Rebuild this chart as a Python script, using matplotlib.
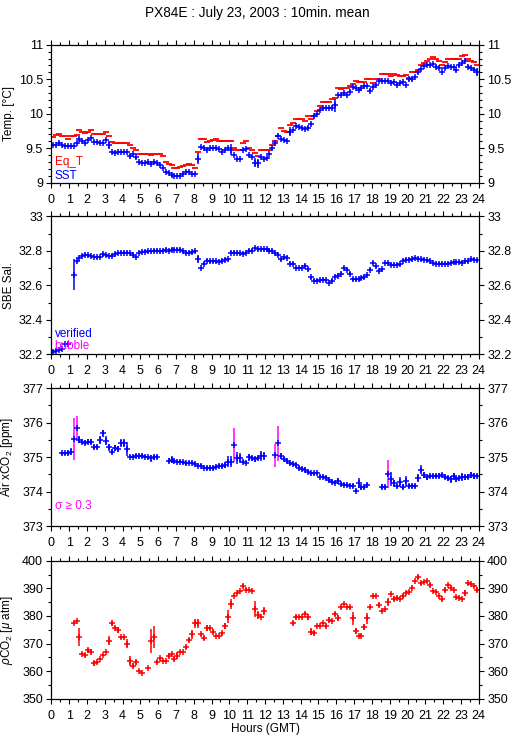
import numpy as np
import matplotlib
matplotlib.use('Agg')
import matplotlib.pyplot as plt
from matplotlib.ticker import MultipleLocator

plt.rcParams['font.family'] = ['Liberation Sans', 'DejaVu Sans']
plt.rcParams['mathtext.fontset'] = 'custom'
plt.rcParams['mathtext.rm'] = 'Liberation Sans'
plt.rcParams['mathtext.it'] = 'Liberation Sans:italic'

nan = np.nan

# 10 minute bins, one row per hour
hours = (np.arange(144) + 0.5) / 6.0

eq_t = [
    [9.66, 9.69, 9.70, 9.68, 9.67, 9.64],
    [9.67, 9.68, 9.69, 9.76, 9.735, 9.72],
    [9.735, 9.765, 9.70, 9.70, 9.70, 9.70],
    [9.73, 9.68, 9.59, 9.57, 9.57, 9.58],
    [9.58, 9.57, 9.55, 9.51, 9.48, 9.42],
    [9.415, 9.415, 9.41, 9.405, 9.41, 9.42],
    [9.42, 9.38, 9.30, 9.27, 9.25, 9.21],
    [9.21, 9.23, 9.24, 9.26, 9.27, 9.26],
    [9.22, 9.44, 9.63, 9.63, 9.59, 9.61],
    [9.62, 9.63, 9.60, 9.60, 9.60, 9.60],
    [9.60, 9.50, 9.47, 9.47, 9.57, 9.60],
    [9.51, 9.47, 9.43, 9.39, 9.47, 9.47],
    [9.47, 9.47, 9.55, 9.61, 9.68, 9.79],
    [9.745, 9.73, 9.83, 9.86, 9.92, 9.92],
    [9.92, 9.89, 9.96, 9.925, 9.97, 10.045],
    [10.11, 10.175, 10.175, 10.175, 10.21, 10.225],
    [10.38, 10.355, 10.38, 10.37, 10.40, 10.43],
    [10.48, 10.467, 10.467, 10.467, 10.50, 10.50],
    [10.44, 10.50, 10.50, 10.573, 10.573, 10.573],
    [10.545, 10.57, 10.555, 10.545, 10.545, 10.56],
    [10.525, 10.60, 10.60, 10.636, 10.70, 10.74],
    [10.77, 10.79, 10.83, 10.79, 10.77, 10.70],
    [10.75, 10.79, 10.79, 10.79, 10.79, 10.79],
    [10.84, 10.85, 10.79, 10.77, 10.75, 10.71],
]

sst = [
    [9.55, 9.55, 9.57, 9.54, 9.535, 9.53],
    [9.53, 9.53, 9.57, 9.63, 9.61, 9.57],
    [9.62, 9.65, 9.59, 9.585, 9.58, 9.58],
    [9.62, 9.55, 9.445, 9.43, 9.44, 9.44],
    [9.45, 9.445, 9.38, 9.41, 9.37, 9.30],
    [9.29, 9.29, 9.30, 9.27, 9.30, 9.29],
    [9.26, 9.21, 9.15, 9.145, 9.11, 9.10],
    [9.09, 9.09, 9.125, 9.16, 9.15, 9.12],
    [9.125, 9.35, 9.52, 9.51, 9.475, 9.505],
    [9.50, 9.50, 9.49, 9.45, 9.48, 9.51],
    [9.48, 9.40, 9.35, 9.35, 9.475, 9.49],
    [9.40, 9.37, 9.29, 9.28, 9.37, 9.345],
    [9.36, 9.42, 9.50, 9.57, 9.68, 9.63],
    [9.62, 9.61, 9.74, 9.765, 9.82, 9.81],
    [9.79, 9.775, 9.80, 9.85, 9.96, 10.00],
    [10.05, 10.08, 10.08, 10.09, 10.09, 10.12],
    [10.27, 10.27, 10.30, 10.27, 10.32, 10.39],
    [10.37, 10.345, 10.37, 10.40, 10.40, 10.335],
    [10.39, 10.41, 10.47, 10.47, 10.47, 10.47],
    [10.45, 10.46, 10.42, 10.44, 10.46, 10.42],
    [10.50, 10.50, 10.53, 10.60, 10.645, 10.69],
    [10.70, 10.70, 10.72, 10.685, 10.67, 10.60],
    [10.66, 10.695, 10.685, 10.685, 10.63, 10.70],
    [10.73, 10.767, 10.685, 10.66, 10.64, 10.60],
]

sst_sd = [
    [0.01, 0.01, 0.01, 0.01, 0.01, 0.01],
    [0.01, 0.01, 0.015, 0.015, 0.01, 0.015],
    [0.01, 0.015, 0.01, 0.01, 0.01, 0.01],
    [0.01, 0.06, 0.01, 0.01, 0.01, 0.01],
    [0.01, 0.01, 0.02, 0.02, 0.02, 0.01],
    [0.01, 0.01, 0.01, 0.01, 0.01, 0.01],
    [0.01, 0.01, 0.01, 0.01, 0.01, 0.01],
    [0.01, 0.01, 0.01, 0.015, 0.01, 0.01],
    [0.015, 0.08, 0.015, 0.01, 0.01, 0.01],
    [0.01, 0.01, 0.015, 0.01, 0.01, 0.01],
    [0.085, 0.02, 0.01, 0.01, 0.02, 0.01],
    [0.01, 0.01, 0.065, 0.065, 0.01, 0.015],
    [0.01, 0.01, 0.02, 0.02, 0.02, 0.015],
    [0.01, 0.01, 0.07, 0.015, 0.01, 0.01],
    [0.01, 0.015, 0.015, 0.02, 0.015, 0.01],
    [0.01, 0.01, 0.01, 0.01, 0.02, 0.1],
    [0.01, 0.01, 0.01, 0.015, 0.02, 0.015],
    [0.015, 0.01, 0.015, 0.01, 0.01, 0.02],
    [0.015, 0.015, 0.01, 0.01, 0.01, 0.01],
    [0.01, 0.01, 0.02, 0.01, 0.01, 0.01],
    [0.02, 0.02, 0.015, 0.02, 0.015, 0.01],
    [0.01, 0.01, 0.01, 0.015, 0.02, 0.015],
    [0.015, 0.01, 0.01, 0.01, 0.02, 0.015],
    [0.015, 0.02, 0.015, 0.015, 0.02, 0.06],
]

salinity = [
    [32.215, 32.22, 32.225, 32.23, 32.26, 32.26],
    [nan, 32.66, 32.74, 32.758, 32.77, 32.777],
    [32.775, 32.768, 32.765, 32.763, 32.765, 32.78],
    [32.775, 32.77, 32.772, 32.78, 32.787, 32.79],
    [32.79, 32.79, 32.787, 32.777, 32.765, 32.79],
    [32.795, 32.795, 32.797, 32.797, 32.80, 32.80],
    [32.797, 32.80, 32.806, 32.80, 32.806, 32.806],
    [32.806, 32.806, 32.797, 32.79, 32.79, 32.792],
    [32.797, 32.752, 32.70, 32.725, 32.742, 32.74],
    [32.74, 32.74, 32.738, 32.742, 32.748, 32.752],
    [32.79, 32.79, 32.79, 32.785, 32.783, 32.79],
    [32.80, 32.80, 32.816, 32.81, 32.81, 32.81],
    [32.81, 32.80, 32.80, 32.787, 32.777, 32.752],
    [32.763, 32.76, 32.725, 32.725, 32.70, 32.70],
    [32.70, 32.715, 32.694, 32.647, 32.626, 32.626],
    [32.63, 32.632, 32.63, 32.613, 32.628, 32.65],
    [32.655, 32.667, 32.70, 32.69, 32.667, 32.636],
    [32.636, 32.636, 32.64, 32.647, 32.66, 32.69],
    [32.73, 32.71, 32.686, 32.694, 32.73, 32.73],
    [32.72, 32.72, 32.72, 32.722, 32.742, 32.748],
    [32.748, 32.752, 32.758, 32.755, 32.752, 32.748],
    [32.745, 32.74, 32.73, 32.725, 32.725, 32.725],
    [32.725, 32.725, 32.73, 32.733, 32.733, 32.733],
    [32.73, 32.74, 32.74, 32.752, 32.748, 32.745],
]

sal_sd = np.full((24, 6), 0.008)
sal_sd[1, 1] = 0.09
sal_sd[8, 1] = 0.025

air_xco2 = [
    [nan, nan, nan, 375.11, 375.11, 375.12],
    [375.16, 375.52, 375.84, 375.50, 375.45, 375.42],
    [375.45, 375.45, 375.29, 375.29, 375.50, 375.69],
    [375.48, 375.28, 375.16, 375.26, 375.23, 375.40],
    [375.40, 375.23, 375.01, 375.01, 375.03, 375.03],
    [375.03, 375.01, 374.99, 374.97, 374.99, 375.00],
    [nan, nan, nan, 374.90, 374.92, 374.88],
    [374.87, 374.87, 374.85, 374.82, 374.84, 374.84],
    [374.80, 374.75, 374.75, 374.69, 374.68, 374.68],
    [374.68, 374.72, 374.74, 374.74, 374.77, 374.87],
    [374.87, 375.35, 374.97, 374.97, 374.87, 374.84],
    [374.99, 374.97, 374.94, 374.97, 375.03, 375.03],
    [nan, nan, nan, 375.05, 375.40, 375.03],
    [374.94, 374.88, 374.82, 374.80, 374.77, 374.68],
    [374.65, 374.63, 374.58, 374.53, 374.53, 374.53],
    [374.43, 374.43, 374.39, 374.34, 374.29, 374.26],
    [374.31, 374.22, 374.20, 374.19, 374.17, 374.16],
    [374.03, 374.24, 374.12, 374.12, 374.19, nan],
    [nan, nan, nan, 374.14, 374.13, 374.51],
    [374.36, 374.24, 374.16, 374.27, 374.14, 374.31],
    [374.16, 374.16, 374.16, 374.39, 374.63, 374.48],
    [374.41, 374.45, 374.45, 374.45, 374.46, 374.48],
    [374.43, 374.39, 374.36, 374.45, 374.36, 374.39],
    [374.43, 374.41, 374.43, 374.48, 374.45, 374.45],
]

air_sd = [
    [0, 0, 0, 0.05, 0.05, 0.05],
    [0.1, 0.6, 0.34, 0.1, 0.08, 0.08],
    [0.08, 0.08, 0.07, 0.07, 0.12, 0.1],
    [0.12, 0.1, 0.07, 0.08, 0.08, 0.12],
    [0.12, 0.2, 0.05, 0.05, 0.05, 0.05],
    [0.05, 0.05, 0.05, 0.1, 0.08, 0.05],
    [0, 0, 0, 0.07, 0.1, 0.05],
    [0.05, 0.05, 0.05, 0.05, 0.05, 0.05],
    [0.05, 0.05, 0.05, 0.05, 0.05, 0.05],
    [0.05, 0.05, 0.05, 0.05, 0.08, 0.15],
    [0.15, 0.5, 0.18, 0.15, 0.05, 0.05],
    [0.1, 0.07, 0.07, 0.05, 0.15, 0.12],
    [0, 0, 0, 0.33, 0.5, 0.08],
    [0.05, 0.05, 0.05, 0.05, 0.05, 0.05],
    [0.05, 0.07, 0.05, 0.05, 0.05, 0.05],
    [0.05, 0.05, 0.05, 0.05, 0.05, 0.05],
    [0.07, 0.05, 0.05, 0.05, 0.05, 0.05],
    [0.05, 0.15, 0.07, 0.05, 0.07, 0],
    [0, 0, 0, 0.07, 0.07, 0.4],
    [0.2, 0.1, 0.07, 0.15, 0.07, 0.14],
    [0.05, 0.05, 0.05, 0.12, 0.13, 0.1],
    [0.08, 0.07, 0.07, 0.07, 0.07, 0.07],
    [0.07, 0.07, 0.1, 0.1, 0.07, 0.07],
    [0.12, 0.07, 0.07, 0.08, 0.08, 0.07],
]

pco2 = [
    [nan, nan, nan, nan, nan, nan],
    [nan, 377.3, 378.1, 372.4, 366.1, 365.7],
    [367.5, 367.1, 362.8, 363.2, 364.4, 365.8],
    [366.8, 371.1, 377.3, 375.8, 374.9, 372.2],
    [372.2, 370.0, 363.8, 362.0, 363.2, 360.0],
    [359.5, nan, 361.0, 370.9, 372.3, 363.4],
    [364.6, 363.6, 363.8, 365.6, 366.1, 364.4],
    [365.6, 366.8, 367.0, 368.7, 371.3, 373.3],
    [377.3, 377.3, 373.3, 372.1, 375.7, 375.5],
    [374.3, 372.7, 372.8, 373.7, 376.4, 379.7],
    [384.2, 387.3, 388.2, 389.1, 390.8, 389.6],
    [389.4, 389.0, 382.5, 380.3, 379.5, 381.8],
    [nan, nan, nan, nan, nan, nan],
    [nan, nan, nan, 377.5, 379.7, 379.7],
    [379.7, 380.9, 379.7, 374.3, 373.9, 376.3],
    [376.4, 377.5, 376.3, 378.7, 378.1, 380.7],
    [379.3, 383.1, 384.3, 383.3, 383.1, 379.1],
    [374.6, 372.7, 372.9, 376.1, 379.1, 383.3],
    [387.2, 387.2, 383.9, 381.9, 382.4, 385.1],
    [387.9, 386.3, 386.7, 386.3, 387.2, 388.5],
    [388.6, 390.2, 392.6, 394.2, 391.8, 392.4],
    [392.8, 391.2, 389.1, 388.6, 387.2, 386.0],
    [389.6, 391.1, 390.3, 389.3, 386.8, 386.7],
    [386.3, 388.4, 391.8, 391.6, 390.8, 389.6],
]

pco2_sd = [
    [0, 0, 0, 0, 0, 0],
    [0, 0.3, 0.4, 3.4, 0.4, 0.4],
    [1.0, 1.0, 0.8, 0.5, 0.4, 0.4],
    [0.4, 1.5, 1.0, 0.4, 1.2, 0.4],
    [0.4, 1.5, 1.8, 0.8, 1.0, 0.4],
    [0.3, 0, 0.3, 4.5, 4.0, 0.8],
    [0.4, 0.4, 0.4, 0.8, 0.4, 0.8],
    [1.2, 0.4, 0.4, 0.8, 0.8, 1.5],
    [1.5, 1.5, 0.5, 0.8, 1.0, 0.4],
    [1.0, 0.4, 0.4, 0.5, 1.0, 2.3],
    [1.8, 0.4, 0.4, 0.4, 0.8, 0.4],
    [0.4, 0.4, 3.0, 1.5, 0.4, 1.5],
    [0, 0, 0, 0, 0, 0],
    [0, 0, 0, 0.8, 0.8, 0.4],
    [0.4, 0.4, 1.2, 1.2, 0.8, 0.4],
    [0.4, 0.5, 0.8, 0.8, 0.4, 0.8],
    [1.0, 0.4, 0.4, 0.4, 0.4, 2.4],
    [1.0, 0.4, 0.4, 1.0, 2.0, 0.4],
    [0.4, 0.4, 0.8, 0.4, 0.4, 1.5],
    [0.4, 0.8, 0.4, 0.4, 0.8, 0.4],
    [0.4, 0.5, 0.4, 0.8, 0.4, 0.4],
    [0.4, 0.8, 0.4, 0.4, 0.4, 0.4],
    [1.0, 0.4, 0.4, 0.4, 0.4, 0.4],
    [0.4, 1.2, 0.4, 0.4, 0.4, 0.8],
]

eq_t = np.array(eq_t).ravel()
sst = np.array(sst).ravel()
sst_sd = np.array(sst_sd).ravel()
salinity = np.array(salinity).ravel()
sal_sd = sal_sd.ravel()
air_xco2 = np.array(air_xco2).ravel()
air_sd = np.array(air_sd).ravel()
pco2 = np.array(pco2).ravel()
pco2_sd = np.array(pco2_sd).ravel()

RED = '#ff0000'
BLUE = '#0000ff'
MAG = '#ff00ff'
FS = 9
LFS = 8.5


def style_axis(ax, ylim, major, minor, fmt=None):
    ax.set_xlim(0, 24)
    ax.set_ylim(*ylim)
    ax.xaxis.set_major_locator(MultipleLocator(1))
    ax.xaxis.set_minor_locator(MultipleLocator(0.5))
    ax.yaxis.set_major_locator(MultipleLocator(major))
    ax.yaxis.set_minor_locator(MultipleLocator(minor))
    ax.tick_params(which='both', direction='out', top=True, right=True,
                   labelright=True, labelsize=FS, width=0.8)
    ax.tick_params(which='major', length=3.5)
    ax.tick_params(which='minor', length=2)
    ax.tick_params(axis='x', pad=4.5)
    ax.tick_params(axis='y', pad=2.5)
    for s in ax.spines.values():
        s.set_linewidth(0.9)
    if fmt:
        ax.yaxis.set_major_formatter(fmt)


def crosses(ax, y, sd, color, ecolor=None):
    ax.errorbar(hours, y, yerr=sd, fmt='+', color=color, ecolor=ecolor or color,
                ms=4.2, mew=1.1, elinewidth=1.1, capsize=0)


fig = plt.figure(figsize=(5.15, 7.39), dpi=100)
left, width, height = 0.0996, 0.830, 0.1866
bottoms = [0.7528, 0.5206, 0.2882, 0.0545]
axes = [fig.add_axes([left, b, width, height]) for b in bottoms]

fig.text(0.5, 0.983, 'PX84E : July 23, 2003 : 10min. mean', ha='center', va='center', fontsize=9.8)

# temperature
ax = axes[0]
ax.plot(hours, eq_t, ls='none', marker='_', ms=5, mew=1.3, color=RED)
crosses(ax, sst, sst_sd, BLUE)
style_axis(ax, (9, 11), 0.5, 0.1, lambda v, p: '%g' % v)
ax.set_ylabel('Temp. [°C]', fontsize=LFS)
ax.text(0.008, 0.13, 'Eq_T', color=RED, fontsize=LFS, transform=ax.transAxes)
ax.text(0.008, 0.025, 'SST', color=BLUE, fontsize=LFS, transform=ax.transAxes)

# salinity
ax = axes[1]
crosses(ax, salinity, sal_sd, BLUE)
style_axis(ax, (32.2, 33), 0.2, 0.1, lambda v, p: '%g' % round(v, 1))
ax.set_ylabel('SBE Sal.', fontsize=LFS)
ax.text(0.008, 0.126, 'verified', color=BLUE, fontsize=LFS, transform=ax.transAxes)
ax.text(0.008, 0.04, 'bubble', color=MAG, fontsize=LFS, transform=ax.transAxes)

# atmospheric xCO2, sigma >= 0.3 flagged in magenta
ax = axes[2]
flag = air_sd >= 0.3
ax.errorbar(hours, air_xco2, yerr=np.where(flag, 0, air_sd), fmt='+', color=BLUE,
            ms=4.2, mew=1.1, elinewidth=1.1, capsize=0)
ax.errorbar(hours[flag], air_xco2[flag], yerr=air_sd[flag], fmt='none', ecolor=MAG,
            elinewidth=1.1, capsize=0)
style_axis(ax, (373, 377), 1, 0.5)
ax.set_ylabel('Air xCO$_2$ [ppm]', fontsize=LFS)
ax.text(0.008, 0.125, 'σ ≥ 0.3', color=MAG, fontsize=LFS, transform=ax.transAxes)

# seawater pCO2
ax = axes[3]
crosses(ax, pco2, pco2_sd, RED)
style_axis(ax, (350, 400), 10, 5)
ax.set_ylabel('$\\rho$CO$_2$ [$\\mu$ atm]', fontsize=LFS)
ax.set_xlabel('Hours (GMT)', fontsize=LFS, labelpad=1)

for ax in axes:
    ax.yaxis.set_label_coords(-0.085, 0.5)

fig.savefig('out.png', dpi=100)
